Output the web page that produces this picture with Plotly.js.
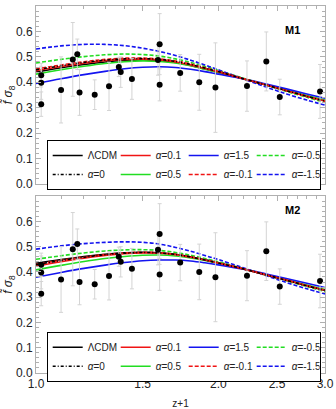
<!DOCTYPE html>
<html>
<head>
<meta charset="utf-8">
<script src="https://cdn.plot.ly/plotly-3.0.1.min.js"></script>
<style>html,body{margin:0;padding:0;background:#fff;}#chart{width:336px;height:409px;}</style>
</head>
<body>
<div id="chart"></div>
<script>
// Observational data: z+1, f sigma8, error
const zp1   = [1.02, 1.02, 1.02, 1.10, 1.15, 1.17, 1.18, 1.25, 1.32, 1.37, 1.38, 1.44, 1.60, 1.59, 1.60, 1.73, 1.86, 1.978, 2.23, 2.40, 2.526, 2.944];
const fs8   = [0.428, 0.398, 0.314, 0.370, 0.490, 0.510, 0.360, 0.3512, 0.384, 0.4602, 0.440, 0.413, 0.550, 0.488, 0.390, 0.437, 0.400, 0.379, 0.385, 0.482, 0.342, 0.364];
const fs8err= [0.0465, 0.065, 0.048, 0.130, 0.145, 0.060, 0.090, 0.0583, 0.095, 0.0378, 0.060, 0.080, 0.120, 0.060, 0.063, 0.072, 0.110, 0.176, 0.099, 0.116, 0.070, 0.106];

// Model curves sampled at z+1
const zGrid = [1.0, 1.1, 1.2, 1.3, 1.4, 1.5, 1.6, 1.7, 1.8, 1.9, 2.0, 2.2, 2.4, 2.6, 2.8, 3.0];

// M1
const m1_LCDM = [0.440,0.457,0.470,0.480,0.486,0.488,0.485,0.478,0.466,0.452,0.439,0.413,0.389,0.367,0.346,0.327];
const m1_a0   = [0.449,0.465,0.478,0.487,0.492,0.493,0.490,0.482,0.470,0.456,0.442,0.414,0.389,0.366,0.345,0.326];
const m1_a01  = [0.446,0.462,0.475,0.485,0.490,0.491,0.488,0.480,0.468,0.454,0.441,0.414,0.389,0.366,0.345,0.327];
const m1_am01 = [0.452,0.468,0.481,0.490,0.495,0.495,0.492,0.484,0.472,0.457,0.443,0.414,0.389,0.366,0.344,0.325];
const m1_a05  = [0.432,0.449,0.463,0.474,0.481,0.484,0.482,0.476,0.465,0.451,0.439,0.414,0.390,0.368,0.348,0.330];
const m1_am05 = [0.476,0.490,0.501,0.508,0.511,0.509,0.503,0.492,0.478,0.462,0.447,0.416,0.388,0.363,0.341,0.321];
const m1_a15  = [0.395,0.414,0.430,0.443,0.453,0.459,0.461,0.458,0.451,0.442,0.432,0.414,0.393,0.373,0.354,0.337];
const m1_am15 = [0.531,0.543,0.549,0.549,0.544,0.534,0.521,0.505,0.487,0.468,0.449,0.413,0.381,0.353,0.330,0.310];

// M2
const m2_LCDM = [0.434,0.449,0.461,0.470,0.476,0.478,0.476,0.470,0.460,0.448,0.436,0.412,0.388,0.366,0.345,0.327];
const m2_a0   = [0.429,0.445,0.458,0.468,0.474,0.477,0.475,0.469,0.459,0.447,0.435,0.412,0.388,0.366,0.345,0.327];
const m2_a01  = [0.423,0.440,0.454,0.465,0.472,0.475,0.474,0.468,0.458,0.447,0.435,0.412,0.388,0.367,0.346,0.328];
const m2_am01 = [0.430,0.446,0.459,0.469,0.475,0.478,0.476,0.470,0.460,0.448,0.436,0.412,0.388,0.366,0.345,0.326];
const m2_a05  = [0.408,0.426,0.441,0.453,0.461,0.466,0.467,0.463,0.455,0.445,0.434,0.412,0.389,0.368,0.348,0.330];
const m2_am05 = [0.450,0.464,0.475,0.483,0.487,0.488,0.485,0.477,0.466,0.453,0.440,0.413,0.387,0.364,0.342,0.323];
const m2_a15  = [0.379,0.398,0.414,0.427,0.437,0.444,0.447,0.447,0.443,0.436,0.428,0.411,0.392,0.373,0.355,0.338];
const m2_am15 = [0.490,0.503,0.512,0.517,0.519,0.517,0.510,0.497,0.482,0.465,0.449,0.416,0.385,0.357,0.333,0.313];

const seriesNames = ['ΛCDM', '<i>α</i>=0.1', '<i>α</i>=1.5', '<i>α</i>=-0.5', '<i>α</i>=0', '<i>α</i>=0.5', '<i>α</i>=-0.1', '<i>α</i>=-1.5'];

const xTickVals = [1.0, 1.5, 2.0, 2.5, 3.0];
const xTickText = ['1.0', '1.5', '2.0', '2.5', '3.0'];
const xMinorVals = [1.1,1.2,1.3,1.4,1.6,1.7,1.8,1.9,2.1,2.2,2.3,2.4,2.6,2.7,2.8,2.9];
const yTickVals = [0, 0.1, 0.2, 0.3, 0.4, 0.5, 0.6];
const yTickText = ['0.0','0.1','0.2','0.3','0.4','0.5','0.6'];

const RED = '#f01414', GREEN = '#22dd22', BLUE = '#1414f0', BLACK = '#000000';
const DASH = '4px,2px', DASHDOT = '3px,2px,1px,2px';

function panel(sets, xa, ya, leg) {
  // sets: [LCDM, a01, a15, am05, a0, a05, am01, am15]
  const styles = [
    {c: BLACK, d: 'solid', r: 1, z: 0},
    {c: RED,   d: 'solid', r: 2, z: 5},
    {c: BLUE,  d: 'solid', r: 3, z: 2},
    {c: GREEN, d: DASH,    r: 4, z: 3},
    {c: BLACK, d: DASHDOT, r: 5, z: 7},
    {c: GREEN, d: 'solid', r: 6, z: 1},
    {c: RED,   d: DASH,    r: 7, z: 6},
    {c: BLUE,  d: DASH,    r: 8, z: 4},
  ];
  const tr = styles.map((s, i) => ({
    type: 'scatter', mode: 'lines', x: zGrid, y: sets[i],
    xaxis: xa, yaxis: ya, legend: leg, name: seriesNames[i], legendrank: s.r,
    line: {color: s.c, dash: s.d, width: 1.6, shape: 'spline', smoothing: 1.0},
    hoverinfo: 'skip', _z: s.z
  }));
  tr.sort((a, b) => a._z - b._z);
  tr.forEach(t => delete t._z);
  tr.push({
    type: 'scatter', mode: 'markers', x: zp1, y: fs8, xaxis: xa, yaxis: ya,
    showlegend: false, marker: {color: '#000', size: 6},
    error_y: {type: 'data', array: fs8err, visible: true, color: '#d4d4d4', thickness: 1, width: 2}
  });
  return tr;
}

const traces = [].concat(
  panel([m1_LCDM, m1_a01, m1_a15, m1_am05, m1_a0, m1_a05, m1_am01, m1_am15], 'x', 'y', 'legend'),
  panel([m2_LCDM, m2_a01, m2_a15, m2_am05, m2_a0, m2_a05, m2_am01, m2_am15], 'x2', 'y2', 'legend2')
);

const frameCol = '#b0b0b0';
function xAxis(anchor, labels) {
  return {
    type: 'log', range: [0, Math.log10(3)], anchor: anchor,
    tickmode: 'array', tickvals: xTickVals, ticktext: xTickText,
    showticklabels: labels, ticks: 'inside', ticklen: 5, tickcolor: frameCol, tickwidth: 1,
    minor: {tickmode: 'array', tickvals: xMinorVals, ticks: 'inside', ticklen: 3, tickcolor: frameCol},
    showline: true, linecolor: frameCol, linewidth: 1, mirror: 'allticks',
    showgrid: false, zeroline: false,
    tickfont: {size: 12, color: '#222'},
    automargin: false
  };
}
function yAxis(domain, anchor) {
  return {
    domain: domain, range: [0, 0.7], anchor: anchor,
    tickmode: 'array', tickvals: yTickVals, ticktext: yTickText,
    ticks: 'inside', ticklen: 5, tickcolor: frameCol, tickwidth: 1,
    minor: {tickmode: 'linear', tick0: 0, dtick: 0.02, ticks: 'inside', ticklen: 3, tickcolor: frameCol},
    showline: true, linecolor: frameCol, linewidth: 1, mirror: 'allticks',
    showgrid: false, zeroline: false,
    tickfont: {size: 12, color: '#222'},
    title: {text: '<i>f̃</i> <i>σ</i><sub>8</sub>', font: {size: 12, color: '#222'}, standoff: 3},
    automargin: false
  };
}

const xa1 = xAxis('y', false);
const xa2 = xAxis('y2', true);
xa1.domain = [0, 1]; xa2.domain = [0, 1];
xa2.title = {text: 'z+1', font: {size: 10, color: '#222'}, standoff: 12};

const legendCommon = {
  orientation: 'h', xanchor: 'left', yanchor: 'top', x: 0.037,
  bordercolor: '#000', borderwidth: 1, bgcolor: '#fff',
  font: {size: 10, color: '#222'}, entrywidth: 23, entrywidthmode: 'pixels',
  traceorder: 'normal', itemclick: false
};

const layout = {
  width: 336, height: 409,
  margin: {l: 36, r: 11, t: 6, b: 36},
  paper_bgcolor: '#fff', plot_bgcolor: '#fff',
  font: {family: 'Liberation Sans, Arial, sans-serif'},
  showlegend: true,
  xaxis: xa1, yaxis: yAxis([0.515, 1], 'x'),
  xaxis2: xa2, yaxis2: yAxis([0, 0.482], 'x2'),
  legend: Object.assign({}, legendCommon, {y: 0.635}),
  legend2: Object.assign({}, legendCommon, {y: 0.1125}),
  annotations: [
    {text: '<b>M1</b>', xref: 'paper', yref: 'paper', x: 0.92, y: 0.957, showarrow: false, font: {size: 11, color: '#000'}},
    {text: '<b>M2</b>', xref: 'paper', yref: 'paper', x: 0.92, y: 0.444, showarrow: false, font: {size: 11, color: '#000'}}
  ]
};

Plotly.newPlot('chart', traces, layout, {staticPlot: true, displayModeBar: false});
</script>
</body>
</html>
